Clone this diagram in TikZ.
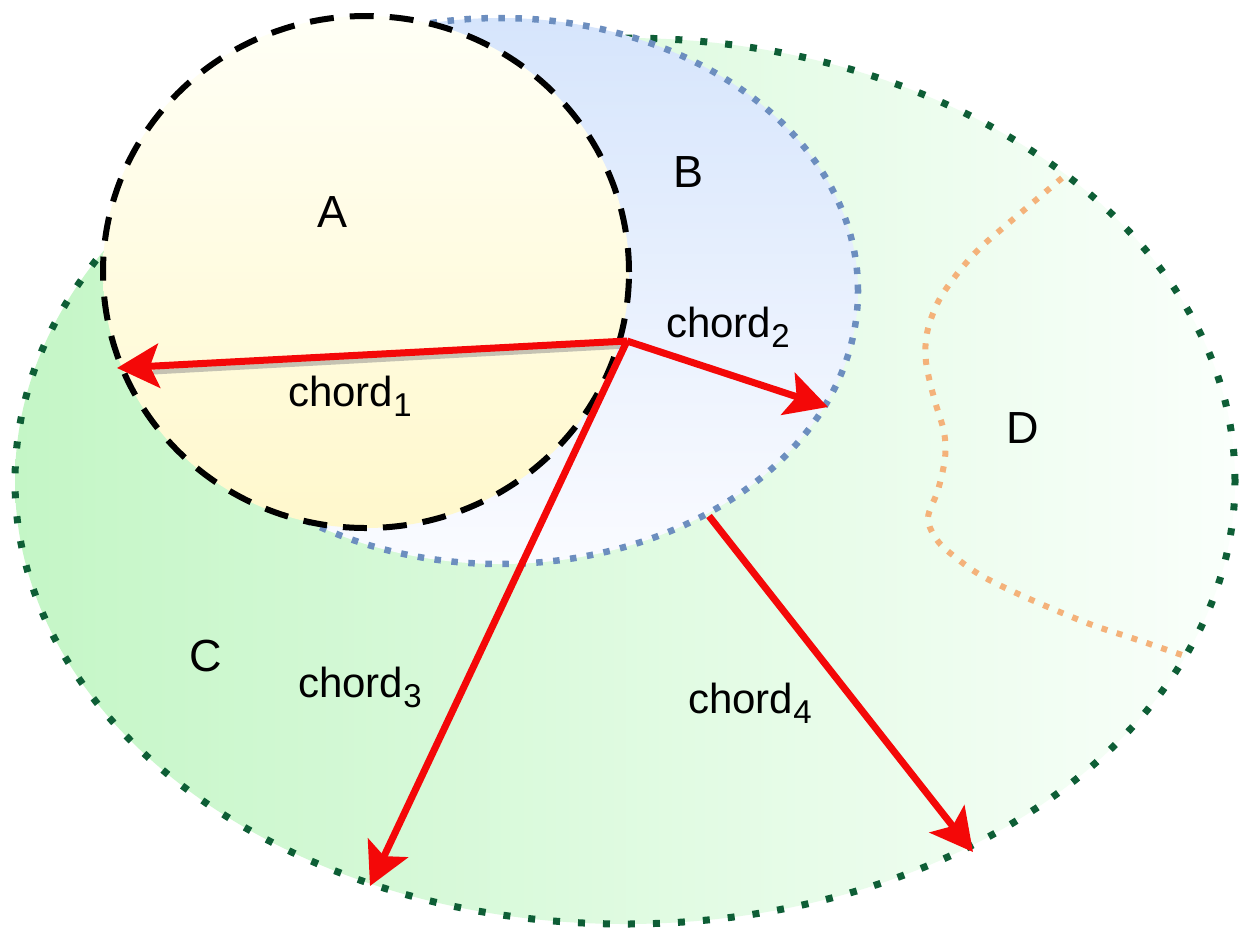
\documentclass[tikz,border=0pt]{standalone}
\usepackage{fontspec}
\setmainfont{Liberation Sans}
\usetikzlibrary{arrows.meta}
\definecolor{cgreen}{RGB}{14,94,54}
\definecolor{bblue}{RGB}{108,142,191}
\definecolor{dorange}{RGB}{244,178,122}
\definecolor{cleft}{RGB}{196,246,198}
\definecolor{cright}{RGB}{250,255,251}
\definecolor{btop}{RGB}{214,229,252}
\definecolor{bbot}{RGB}{250,251,255}
\definecolor{atop}{RGB}{255,255,246}
\definecolor{abot}{RGB}{255,248,204}
\definecolor{chordred}{RGB}{244,8,8}
\newcommand{\chordlbl}[1]{chord\raisebox{-10pt}{\fontsize{33}{33}\selectfont #1}}
\begin{document}
\begin{tikzpicture}[x=1pt,y=-1pt,
  lbl/.style={font=\fontsize{42}{46}\selectfont, inner sep=0pt, text=black},
  biglbl/.style={font=\fontsize{45}{50}\selectfont, inner sep=0pt, text=black},
  greendots/.style={draw=cgreen, line width=7pt, dash pattern=on 7pt off 18pt},
  bluedots/.style={draw=bblue, line width=6.5pt, dash pattern=on 6.5pt off 10.5pt},
  orangedots/.style={draw=dorange, line width=6pt, dash pattern=on 6pt off 9.7pt},
  blackdash/.style={draw=black, line width=6pt, dash pattern=on 24pt off 16pt},
  redarrow/.style={draw=chordred, line width=7pt, -{Stealth[length=42pt,width=44pt,inset=9pt]}},
  arrowshadow/.style={draw=black!45, opacity=0.5, line width=5pt}
]
\useasboundingbox (0,0) rectangle (1239,930);
\fill[white] (0,0) rectangle (1239,930);

% region C
\path[greendots, left color=cleft, right color=cright] (625,481) ellipse [x radius=610pt, y radius=443pt];
% region B
\path[bluedots, top color=btop, bottom color=bbot] (500,291) ellipse [x radius=358pt, y radius=273pt];
% region A
\path[blackdash, top color=atop, bottom color=abot] (366,272) ellipse [x radius=263pt, y radius=256pt];
% region D boundary
\draw[orangedots] plot[smooth, tension=0.55] coordinates {(1062,178) (1030,205) (1004,227) (979,249) (957,274) (938,302) (927,333) (926,362) (934,398) (944,432) (945,458) (938,490) (928,518) (937,540) (955,557) (982,576) (1025,597) (1087,623) (1135,639) (1185,656)};

% points
\coordinate (O) at (627,341);
\coordinate (T1) at (117,368);
\coordinate (T2) at (828,407);
\coordinate (T3) at (370,886);
\coordinate (S4) at (709,516);
\coordinate (T4) at (973,852);

\draw[arrowshadow] ([yshift=-5pt]O) -- ([xshift=36pt,yshift=-4pt]T1);
\draw[redarrow] (O) -- (T1);
\draw[redarrow] (O) -- (T2);
\draw[redarrow] (O) -- (T3);
\draw[redarrow] (S4) -- (T4);

% labels
\node[biglbl] (la) at (333,212) {A};
\node[biglbl] (lb) at (688,172) {B};
\node[biglbl] (lc) at (206,656) {C};
\node[biglbl] (ld) at (1023,428) {D};
\node[lbl, anchor=base west] (l1) at (288,406) {\chordlbl{1}};
\node[lbl, anchor=base west] (l2) at (666,337) {\chordlbl{2}};
\node[lbl, anchor=base west] (l3) at (298,697) {\chordlbl{3}};
\node[lbl, anchor=base west] (l4) at (688,713) {\chordlbl{4}};
\end{tikzpicture}
\end{document}
